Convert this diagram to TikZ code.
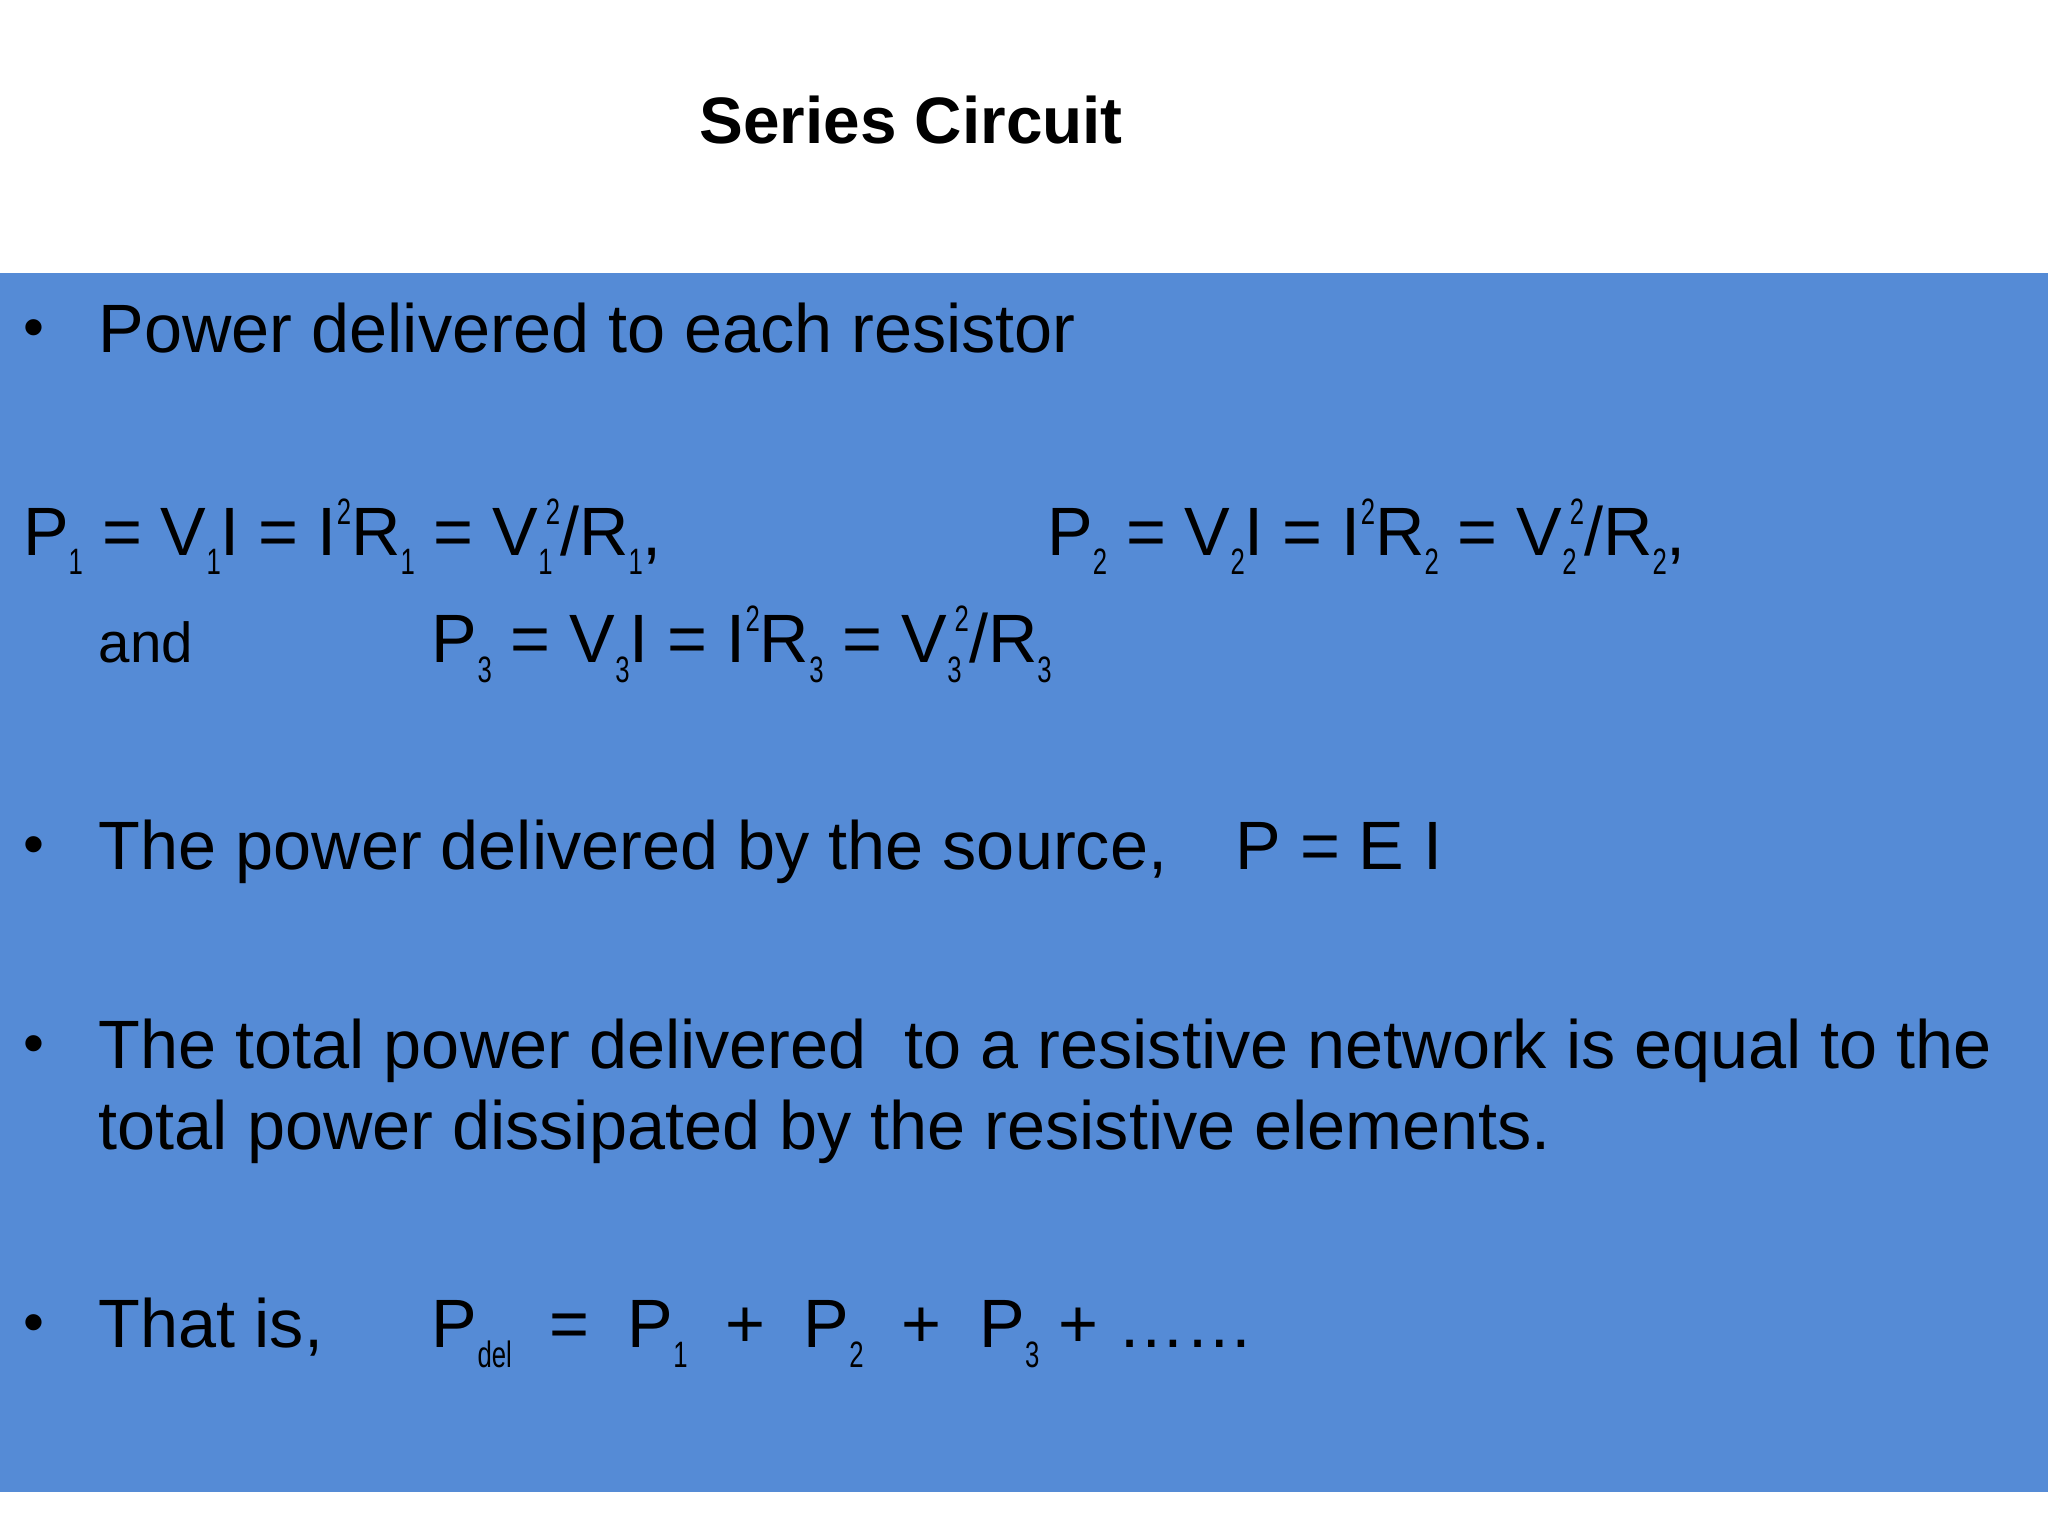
\documentclass[tikz,border=0pt]{standalone}
\usepackage{fontspec}
\setmainfont{Liberation Sans}
\definecolor{band}{HTML}{558BD6}
\newcommand{\lo}[1]{\raisebox{-0.55ex}{\fontsize{8}{8}\selectfont\scalebox{0.7}[1]{#1}}}
\newcommand{\hi}[1]{\raisebox{0.85ex}{\fontsize{8}{8}\selectfont\scalebox{0.7}[1]{#1}}}
\newcommand{\both}[2]{\lo{#1}\hspace{-0.1em}\hi{#2}}
\begin{document}
\begin{tikzpicture}[x=1cm,y=1cm,
  txt/.style={anchor=base west,inner sep=0pt,font=\fontsize{14.9}{18}\selectfont},
  bul/.style={anchor=base west,inner sep=0pt,font=\fontsize{13}{16}\selectfont}]
\useasboundingbox (0,0) rectangle (15.68,11.76);
\fill[white] (0,0) rectangle (15.68,11.76);
\fill[band] (0,0.34) rectangle (15.68,9.67);
\node[txt,font=\fontsize{14.3}{17}\selectfont\bfseries] (title) at (5.35,10.66) {Series Circuit};
\node[bul] (b1) at (0.17,9.10) {•};
\node[txt] (t1) at (0.75,9.06) {Power delivered to each resistor};
\node[txt] (p1) at (0.17,7.51) {P\lo{1} = V\lo{1}I = I\hi{2}R\lo{1} = V\both{1}{2}/R\lo{1},};
\node[txt] (p2) at (8.01,7.51) {P\lo{2} = V\lo{2}I = I\hi{2}R\lo{2} = V\both{2}{2}/R\lo{2},};
\node[txt,font=\fontsize{12.3}{15}\selectfont] (and) at (0.75,6.69) {and};
\node[txt] (p3) at (3.30,6.69) {P\lo{3} = V\lo{3}I = I\hi{2}R\lo{3} = V\both{3}{2}/R\lo{3}};
\node[bul] (b2) at (0.17,5.14) {•};
\node[txt] (t2) at (0.75,5.10) {The power delivered by the source,\hspace{1em}P = E I};
\node[bul] (b3) at (0.17,3.62) {•};
\node[txt] (t3) at (0.75,3.58) {The total power delivered\ \ to a resistive network is equal to the};
\node[txt] (t3b) at (0.75,2.96) {total power dissipated by the resistive elements.};
\node[bul] (b4) at (0.17,1.48) {•};
\node[txt] (t4) at (0.75,1.44) {That is,};
\node[txt] (t4b) at (3.30,1.44) {P\lo{del}\ \ =\ \ P\lo{1}\ \ +\ \ P\lo{2}\ \ +\ \ P\lo{3} + ……};
\end{tikzpicture}
\end{document}
